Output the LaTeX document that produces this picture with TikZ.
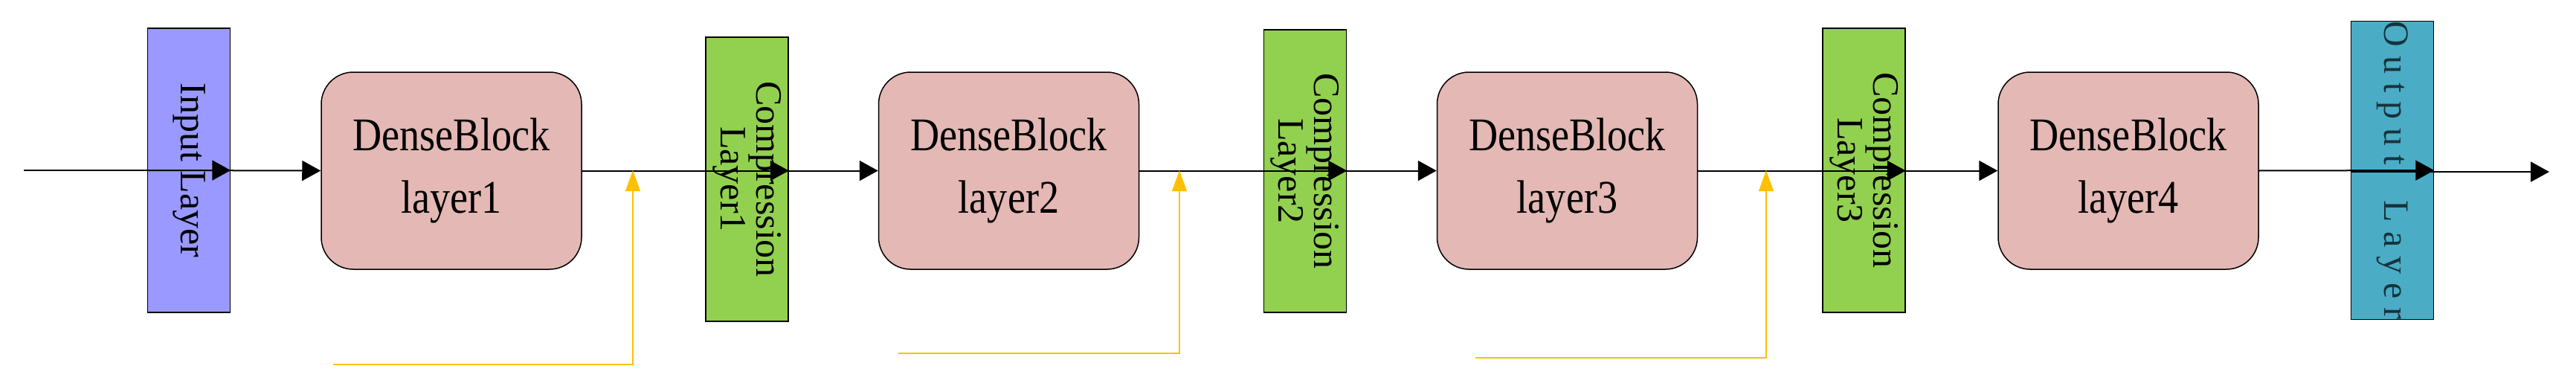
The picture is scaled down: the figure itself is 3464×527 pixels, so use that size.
\documentclass[tikz,border=0pt]{standalone}
\usepackage{fontspec}
\setmainfont{Liberation Serif}
\usetikzlibrary{arrows.meta}
\definecolor{inblue}{HTML}{9999FF}
\definecolor{dense}{HTML}{E4B8B4}
\definecolor{comp}{HTML}{92D050}
\definecolor{outc}{HTML}{4BACC6}
\definecolor{yel}{HTML}{FFC000}
\begin{document}
\begin{tikzpicture}[x=1pt,y=-1pt,
  bar/.style={draw=black,line width=1.5pt,rotate=-90,minimum width=382pt,minimum height=111pt,inner sep=0pt,align=center,font=\fontsize{50}{48}\selectfont},
  dense/.style={draw=black,line width=1.5pt,fill=dense,rounded corners=43pt,minimum width=350pt,minimum height=265pt,inner sep=0pt,align=center,font=\fontsize{63}{84}\selectfont},
  flow/.style={line width=2pt,-{Triangle[length=25pt,width=27pt]}},
  skip/.style={yel,line width=1.5pt,-{Triangle[length=28pt,width=20pt]}}]
\useasboundingbox (0,0) rectangle (3464,527);
\coordinate (start) at (32,229);
\coordinate (stop) at (3428,231);
\node[bar,fill=inblue] (in) at (254,229) {Input Layer};
\node[dense] (d1) at (607,229.5) {\scalebox{0.86}[1]{DenseBlock}\\\scalebox{0.86}[1]{layer1}};
\node[bar,fill=comp] (c1) at (1004.5,241) {Compression\\Layer1};
\node[dense] (d2) at (1356.5,229.5) {\scalebox{0.86}[1]{DenseBlock}\\\scalebox{0.86}[1]{layer2}};
\node[bar,fill=comp,minimum width=380pt] (c2) at (1755,230) {\hspace*{0pt}\raisebox{0pt}{Compression}\\Layer2};
\node[dense] (d3) at (2107.5,229.5) {\scalebox{0.86}[1]{DenseBlock}\\\scalebox{0.86}[1]{layer3}};
\node[bar,fill=comp] (c3) at (2506.5,229) {Compression\\Layer3};
\node[dense] (d4) at (2862,229.5) {\scalebox{0.86}[1]{DenseBlock}\\\scalebox{0.86}[1]{layer4}};
\node[bar,fill=outc,text={black!70!outc},font=\fontsize{48}{48}\selectfont\addfontfeature{LetterSpace=25}] (out) at (3217,229) {Output~~Layer};
\draw[flow] (start) -- (in.north);
\draw[flow] (in.south) -- (d1.west);
\draw[flow] (d1.east) -- (c1.north |- d1.east);
\draw[flow] (c1.south |- d1.east) -- (d2.west);
\draw[flow] (d2.east) -- (c2.north |- d2.east);
\draw[flow] ([xshift=15pt]c2.center |- d3.west) -- (d3.west);
\draw[flow] (d3.east) -- (c3.north |- d3.east);
\draw[flow] ([xshift=32pt]c3.center |- d4.west) -- (d4.west);
\draw[flow] (d4.east) -- (out.north);
\draw[flow] (out.south |- stop) -- (stop);
\coordinate (y1s) at (448,490); \coordinate (y1t) at (851,229);
\coordinate (y2s) at (1208,475); \coordinate (y2t) at (1586,229);
\coordinate (y3s) at (1984,481); \coordinate (y3t) at (2375,229);
\draw[skip] (y1s) -| (y1t);
\draw[skip] (y2s) -| (y2t);
\draw[skip] (y3s) -| (y3t);
\end{tikzpicture}
\end{document}
